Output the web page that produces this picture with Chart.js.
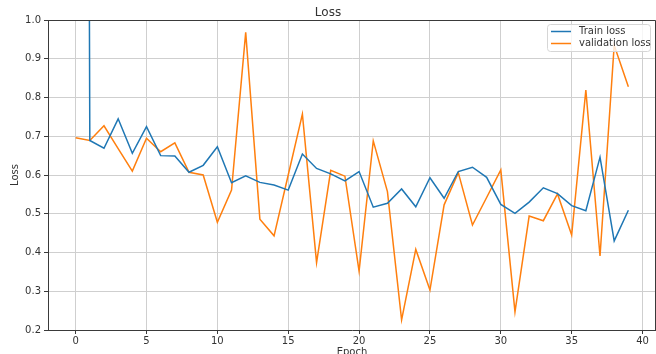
<!DOCTYPE html>
<html><head><meta charset="utf-8">
<script src="https://cdn.jsdelivr.net/npm/chart.js@4.4.0/dist/chart.umd.min.js"></script>
<style>html,body{margin:0;padding:0;background:#fff;}#wrap{width:656px;height:354px;}</style>
</head><body><div id="wrap"><canvas id="c" width="656" height="354"></canvas></div>
<script>
const epochs = [0,1,2,3,4,5,6,7,8,9,10,11,12,13,14,15,16,17,18,19,20,21,22,23,24,25,26,27,28,29,30,31,32,33,34,35,36,37,38,39];
const trainLoss = [12, 0.689, 0.669, 0.745, 0.656, 0.725, 0.650, 0.649, 0.607, 0.625, 0.673, 0.580, 0.598, 0.581, 0.574, 0.561, 0.654, 0.617, 0.603, 0.585, 0.609, 0.517, 0.527, 0.564, 0.518, 0.593, 0.540, 0.609, 0.620, 0.594, 0.524, 0.501, 0.530, 0.567, 0.552, 0.521, 0.508, 0.646, 0.430, 0.509];
const valLoss = [0.696, 0.689, 0.727, 0.668, 0.610, 0.695, 0.660, 0.683, 0.607, 0.600, 0.478, 0.561, 0.968, 0.486, 0.443, 0.600, 0.757, 0.374, 0.612, 0.597, 0.352, 0.688, 0.557, 0.226, 0.408, 0.303, 0.523, 0.606, 0.471, 0.542, 0.613, 0.247, 0.494, 0.482, 0.551, 0.445, 0.819, 0.391, 0.935, 0.828];
const xTicks = [0, 5, 10, 15, 20, 25, 30, 35, 40];
const yTicks = [0.2, 0.3, 0.4, 0.5, 0.6, 0.7, 0.8, 0.9, 1.0];
const seriesNames = ['Train loss', 'validation loss'];
const titleText = 'Loss';
const xLabel = 'Epoch';
const yLabel = 'Loss';

const BLUE = '#1f77b4', ORANGE = '#ff7f0e';
const TXT = '#333333', SPINE = '#3a3a3a', GRID = '#cfcfcf';
Chart.defaults.font.family = 'DejaVu Sans';
Chart.defaults.color = TXT;

const framePlugin = {
  id: 'frame',
  afterDatasetsDraw(chart) {
    const {ctx, chartArea: a} = chart;
    ctx.save();
    ctx.strokeStyle = SPINE; ctx.lineWidth = 1;
    ctx.beginPath();
    ctx.moveTo(Math.round(a.left) + 0.5, Math.round(a.top) + 0.5);
    ctx.lineTo(Math.round(a.right) - 0.5, Math.round(a.top) + 0.5);
    ctx.lineTo(Math.round(a.right) - 0.5, Math.round(a.bottom) + 0.5);
    ctx.stroke();
    ctx.restore();
  }
};

const legendPlugin = {
  id: 'innerLegend',
  afterDraw(chart) {
    const {ctx, chartArea: a} = chart;
    const right = a.right - 6, top = a.top + 4, w = 103, h = 27;
    const left = right - w;
    ctx.save();
    ctx.fillStyle = 'rgba(255,255,255,0.8)';
    ctx.strokeStyle = '#d6d6d6'; ctx.lineWidth = 1;
    ctx.beginPath();
    if (ctx.roundRect) ctx.roundRect(left + 0.5, top + 0.5, w, h, 3); else ctx.rect(left + 0.5, top + 0.5, w, h);
    ctx.fill(); ctx.stroke();
    const colors = [BLUE, ORANGE];
    ctx.font = '10px "DejaVu Sans"';
    ctx.textBaseline = 'middle'; ctx.textAlign = 'left';
    seriesNames.forEach((name, i) => {
      const y = top + 7.5 + i * 12;
      ctx.strokeStyle = colors[i]; ctx.lineWidth = 1.5;
      ctx.beginPath(); ctx.moveTo(left + 4, y); ctx.lineTo(left + 24, y); ctx.stroke();
      ctx.fillStyle = TXT;
      ctx.fillText(name, left + 32, y);
    });
    ctx.restore();
  }
};

new Chart(document.getElementById('c'), {
  type: 'line',
  data: {
    datasets: [
      { label: seriesNames[0], data: epochs.map((e, i) => ({x: e, y: trainLoss[i]})), borderColor: BLUE, backgroundColor: BLUE, borderWidth: 1.5, pointRadius: 0, tension: 0, fill: false },
      { label: seriesNames[1], data: epochs.map((e, i) => ({x: e, y: valLoss[i]})), borderColor: ORANGE, backgroundColor: ORANGE, borderWidth: 1.5, pointRadius: 0, tension: 0, fill: false }
    ]
  },
  options: {
    responsive: false, animation: false, devicePixelRatio: 1,
    layout: { padding: 0 },
    plugins: {
      legend: { display: false },
      tooltip: { enabled: false },
      title: { display: true, text: titleText, color: TXT, font: { size: 12, weight: 'normal', lineHeight: 1.25 }, padding: { top: 5, bottom: 0 } }
    },
    scales: {
      x: {
        type: 'linear', min: -1.95, max: 40.95,
        afterBuildTicks: s => { s.ticks = xTicks.map(v => ({value: v})); },
        afterFit: s => { s.height = 24; s.paddingLeft = 0; s.paddingRight = 0; },
        grid: { color: GRID, lineWidth: 1, tickLength: 4, tickColor: SPINE },
        border: { color: SPINE, width: 1 },
        ticks: { font: { size: 10, lineHeight: 1.0 }, padding: 2, maxRotation: 0, autoSkip: false, callback: v => String(v) },
        title: { display: true, text: xLabel, font: { size: 10, lineHeight: 1.0 }, padding: { top: 0, bottom: -3 } }
      },
      y: {
        min: 0.2, max: 1.0,
        afterBuildTicks: s => { s.ticks = yTicks.map(v => ({value: v})); },
        afterFit: s => { s.width = 48; s.paddingTop = 0; s.paddingBottom = 0; },
        grid: { color: GRID, lineWidth: 1, tickLength: 4, tickColor: SPINE },
        border: { color: SPINE, width: 1 },
        ticks: { font: { size: 10 }, padding: 3, autoSkip: false, callback: v => v.toFixed(1) },
        title: { display: true, text: yLabel, font: { size: 10, lineHeight: 1.0 }, padding: { top: 10, bottom: 0 } }
      }
    }
  },
  plugins: [framePlugin, legendPlugin]
});
</script>
</body></html>
